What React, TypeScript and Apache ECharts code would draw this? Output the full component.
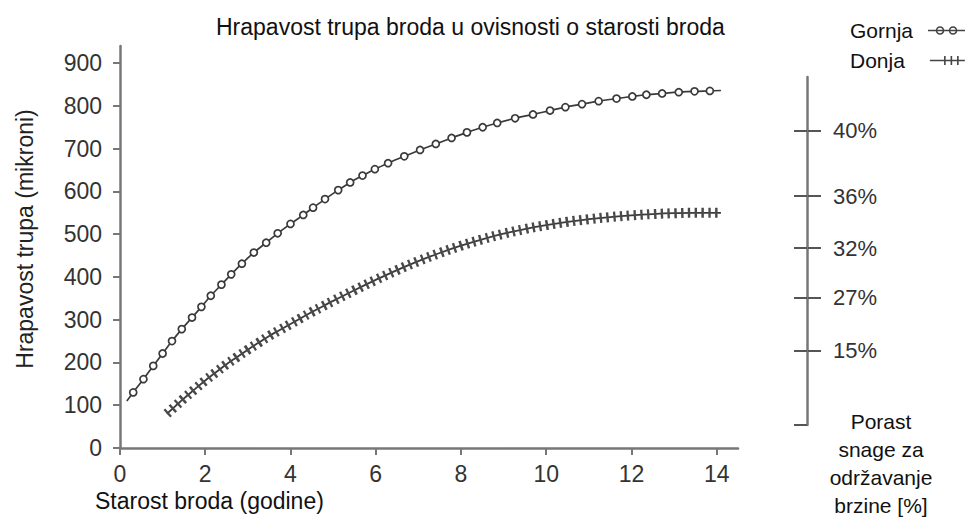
import React, { useEffect, useRef } from 'react';
import * as echarts from 'echarts';

const FONT = '"Liberation Sans", Arial, Helvetica, sans-serif';

const chartTitle = 'Hrapavost trupa broda u ovisnosti o starosti broda';
const xAxisTitle = 'Starost broda (godine)';
const yAxisTitle = 'Hrapavost trupa (mikroni)';
const powerAxisTitle = ['Porast', 'snage za', 'održavanje', 'brzine [%]'];
const seriesNames = ['Gornja', 'Donja'];

const xTickValues = [0, 2, 4, 6, 8, 10, 12, 14];
const yTickValues = [0, 100, 200, 300, 400, 500, 600, 700, 800, 900];

// right-hand scale: tick positions expressed in microns of the left axis
const powerTickValues = [229, 354, 469, 591, 744];
const powerTickLabels = ['15%', '27%', '32%', '36%', '40%'];
const powerAxisRange = [55, 870];

const gornjaYears = [0.16, 0.31, 0.55, 0.78, 1.0, 1.22, 1.45, 1.69, 1.91, 2.13, 2.38, 2.61, 2.86, 3.14, 3.43, 3.7, 4.0, 4.3, 4.53, 4.81, 5.12, 5.4, 5.69, 5.98, 6.29, 6.67, 7.04, 7.41, 7.78, 8.14, 8.51, 8.85, 9.27, 9.69, 10.09, 10.45, 10.84, 11.23, 11.65, 12.02, 12.35, 12.72, 13.11, 13.48, 13.84, 14.1];
const gornjaRoughness = [110, 130, 161, 192, 221, 250, 278, 305, 330, 356, 382, 406, 431, 457, 480, 502, 524, 545, 562, 582, 603, 621, 637, 652, 666, 682, 697, 711, 725, 738, 750, 760, 771, 780, 789, 797, 804, 811, 817, 822, 826, 829, 832, 834, 835, 836];

const donjaYears = [1.1, 1.3, 1.5, 1.75, 2.0, 2.25, 2.5, 2.75, 3.0, 3.25, 3.5, 3.75, 4.0, 4.25, 4.5, 4.75, 5.0, 5.5, 6.0, 6.5, 7.0, 7.5, 8.0, 8.5, 9.0, 9.5, 10.0, 10.5, 11.0, 11.5, 12.0, 12.5, 13.0, 13.5, 14.1];
const donjaRoughness = [80, 98, 116, 137, 158, 177, 196, 213, 230, 246, 262, 276, 290, 304, 318, 331, 344, 369, 393, 416, 437, 456, 473, 488, 501, 512, 521, 529, 535, 540, 544, 547, 549, 550, 550];

const gornjaIcon = 'path://M0,4 L37,4 M8.5,4 A3.5,3.5 0 1 1 15.5,4 A3.5,3.5 0 1 1 8.5,4 M21.5,4 A3.5,3.5 0 1 1 28.5,4 A3.5,3.5 0 1 1 21.5,4';
const donjaIcon = 'path://M0,4.5 L35,4.5 M15,0 L15,9 M21.5,0 L21.5,9 M28,0 L28,9';

const AXIS_COLOR = '#777';
const INK = '#3a3a3a';

export default function App() {
  const ref = useRef<HTMLDivElement>(null);

  useEffect(() => {
    if (!ref.current) return;
    const chart = echarts.init(ref.current, undefined, { renderer: 'svg' });

    const gornjaData = gornjaYears.map((x, i) => {
      const item: any = { value: [x, gornjaRoughness[i]] };
      if (i === 0 || i === gornjaYears.length - 1) item.symbol = 'none';
      return item;
    });
    const donjaData = donjaYears.map((x, i) => [x, donjaRoughness[i]]);

    const legendText = (padRight: number) => ({
      fontSize: 21,
      color: '#111',
      fontFamily: FONT,
      padding: [0, padRight, 0, 0],
    });
    const legendIconStyle = { color: 'rgba(0,0,0,0)', borderColor: '#444', borderWidth: 1.6 };

    const option: any = {
      animation: false,
      backgroundColor: '#fff',
      title: {
        text: chartTitle,
        left: 216,
        top: 14,
        padding: 0,
        textStyle: { fontSize: 23, fontWeight: 'normal', color: '#111', fontFamily: FONT, lineHeight: 26 },
      },
      legend: [
        {
          data: [{ name: seriesNames[0], icon: gornjaIcon, itemStyle: legendIconStyle }],
          left: 850,
          top: 20,
          padding: 0,
          orient: 'vertical',
          align: 'right',
          itemWidth: 37,
          itemHeight: 7,
          selectedMode: false,
          textStyle: legendText(10),
        },
        {
          data: [{ name: seriesNames[1], icon: donjaIcon, itemStyle: legendIconStyle }],
          left: 850,
          top: 50,
          padding: 0,
          orient: 'vertical',
          align: 'right',
          itemWidth: 35,
          itemHeight: 9,
          selectedMode: false,
          textStyle: legendText(20),
        },
      ],
      grid: [
        { left: 120, top: 46, right: 230, bottom: 69 },
        { left: 807, top: 77, bottom: 92, width: 1 },
      ],
      xAxis: [
        {
          type: 'value',
          gridIndex: 0,
          min: 0,
          max: 14.5,
          splitLine: { show: false },
          axisLine: { lineStyle: { color: AXIS_COLOR, width: 2.5 } },
          axisTick: { customValues: xTickValues, length: 7, lineStyle: { color: AXIS_COLOR, width: 2 } },
          axisLabel: { customValues: xTickValues, fontSize: 23, color: '#333', margin: 14, fontFamily: FONT },
        },
        { type: 'value', gridIndex: 1, show: false },
      ],
      yAxis: [
        {
          type: 'value',
          gridIndex: 0,
          min: 0,
          max: 940,
          splitLine: { show: false },
          axisLine: { show: true, lineStyle: { color: AXIS_COLOR, width: 2.5 } },
          axisTick: { show: true, customValues: yTickValues, length: 7, lineStyle: { color: AXIS_COLOR, width: 2 } },
          axisLabel: { customValues: yTickValues, fontSize: 23, color: '#333', margin: 18, fontFamily: FONT },
          name: yAxisTitle,
          nameLocation: 'middle',
          nameGap: 84,
          nameRotate: 90,
          nameTextStyle: { fontSize: 23, color: '#222', fontFamily: FONT, padding: [0, 0, 0, 16] },
        },
        {
          type: 'value',
          gridIndex: 1,
          position: 'left',
          min: powerAxisRange[0],
          max: powerAxisRange[1],
          splitLine: { show: false },
          axisLine: { show: true, lineStyle: { color: AXIS_COLOR, width: 2.5 } },
          axisTick: { show: true, customValues: [powerAxisRange[0], ...powerTickValues], length: 13, lineStyle: { color: '#555', width: 2 } },
          axisLabel: { show: false },
        },
        {
          type: 'value',
          gridIndex: 1,
          position: 'right',
          min: powerAxisRange[0],
          max: powerAxisRange[1],
          splitLine: { show: false },
          axisLine: { show: false },
          axisTick: { show: true, customValues: powerTickValues, length: 13, lineStyle: { color: '#555', width: 2 } },
          axisLabel: {
            customValues: powerTickValues,
            formatter: (v: number) => {
              const i = powerTickValues.indexOf(v);
              return i >= 0 ? powerTickLabels[i] : '';
            },
            fontSize: 22,
            color: '#333',
            margin: 25,
            fontFamily: FONT,
          },
        },
      ],
      graphic: [
        {
          type: 'text',
          x: 95,
          y: 501,
          style: { text: xAxisTitle, fontSize: 23, fill: '#111', fontFamily: FONT, verticalAlign: 'middle' },
        },
        {
          type: 'text',
          x: 881,
          y: 407,
          style: {
            text: powerAxisTitle.join('\n'),
            fontSize: 21,
            lineHeight: 28,
            fill: '#111',
            fontFamily: FONT,
            align: 'center',
            verticalAlign: 'top',
          },
        },
      ],
      series: [
        {
          name: seriesNames[0],
          type: 'line',
          xAxisIndex: 0,
          yAxisIndex: 0,
          data: gornjaData,
          smooth: 0.35,
          symbol: 'circle',
          symbolSize: 7,
          showAllSymbol: true,
          itemStyle: { color: '#fff', borderColor: INK, borderWidth: 1.7 },
          lineStyle: { color: INK, width: 1.7 },
          z: 3,
        },
        {
          name: seriesNames[1],
          type: 'line',
          xAxisIndex: 0,
          yAxisIndex: 0,
          data: donjaData,
          smooth: 0.4,
          symbol: 'none',
          lineStyle: { color: INK, width: 1.8 },
          z: 2,
        },
        {
          name: seriesNames[1],
          type: 'line',
          xAxisIndex: 0,
          yAxisIndex: 0,
          data: donjaData,
          smooth: 0.4,
          symbol: 'none',
          lineStyle: { color: '#4a4a4a', width: 10, type: [2.4, 4.4], cap: 'butt' },
          z: 2,
        },
      ],
    };

    chart.setOption(option);
    return () => chart.dispose();
  }, []);

  return <div ref={ref} style={{ position: 'fixed', left: 0, top: 0, width: 968, height: 517 }} />;
}
